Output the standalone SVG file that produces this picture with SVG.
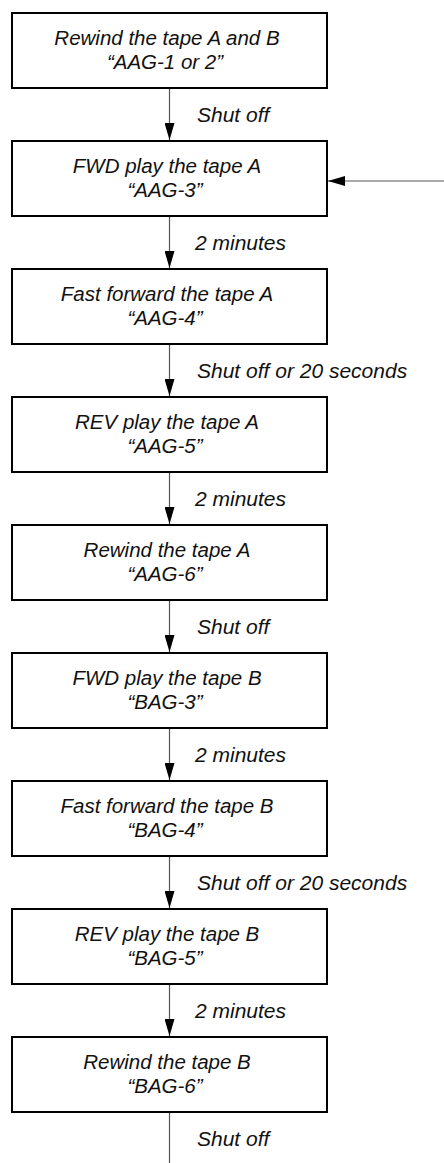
<svg xmlns="http://www.w3.org/2000/svg" width="444" height="1163" viewBox="0 0 444 1163">
<defs>
<marker id="ah" viewBox="0 0 17 10" refX="17" refY="5" markerWidth="17" markerHeight="10" markerUnits="userSpaceOnUse" orient="auto">
<path d="M0,0 L17,5 L0,10 Z" fill="#000"/>
</marker>
</defs>
<style>
.box{fill:#fff;stroke:#000;stroke-width:2}
.t{font-family:"Liberation Sans",Arial,sans-serif;font-style:italic;font-size:20.5px;fill:#111;text-anchor:middle}
.l{font-family:"Liberation Sans",Arial,sans-serif;font-style:italic;font-size:21px;fill:#111}
.c{stroke:#555;stroke-width:1.2;fill:none}
</style>
<rect width="444" height="1163" fill="#fff"/>
<g id="connectors">
<line class="c" x1="169.5" y1="88" x2="169.5" y2="140" marker-end="url(#ah)"/>
<line class="c" x1="169.5" y1="216" x2="169.5" y2="268" marker-end="url(#ah)"/>
<line class="c" x1="169.5" y1="344" x2="169.5" y2="396" marker-end="url(#ah)"/>
<line class="c" x1="169.5" y1="472" x2="169.5" y2="524" marker-end="url(#ah)"/>
<line class="c" x1="169.5" y1="600" x2="169.5" y2="652" marker-end="url(#ah)"/>
<line class="c" x1="169.5" y1="728" x2="169.5" y2="780" marker-end="url(#ah)"/>
<line class="c" x1="169.5" y1="856" x2="169.5" y2="908" marker-end="url(#ah)"/>
<line class="c" x1="169.5" y1="984" x2="169.5" y2="1036" marker-end="url(#ah)"/>
<line class="c" x1="169.5" y1="1112" x2="169.5" y2="1163"/>
<line class="c" x1="444" y1="181" x2="328" y2="181" marker-end="url(#ah)"/>
<text class="l" x="197" y="122">Shut off</text>
<text class="l" x="195" y="250">2 minutes</text>
<text class="l" x="197" y="378">Shut off or 20 seconds</text>
<text class="l" x="195" y="506">2 minutes</text>
<text class="l" x="197" y="634">Shut off</text>
<text class="l" x="195" y="762">2 minutes</text>
<text class="l" x="197" y="890">Shut off or 20 seconds</text>
<text class="l" x="195" y="1018">2 minutes</text>
<text class="l" x="197" y="1146">Shut off</text>
</g>
<g id="n1"><rect class="box" x="12" y="13" width="315" height="75"/><text class="t" x="167" y="45">Rewind the tape A and B</text><text class="t" x="165" y="69">“AAG-1 or 2”</text></g>
<g id="n2"><rect class="box" x="12" y="141" width="315" height="75"/><text class="t" x="167" y="173">FWD play the tape A</text><text class="t" x="165" y="197">“AAG-3”</text></g>
<g id="n3"><rect class="box" x="12" y="269" width="315" height="75"/><text class="t" x="167" y="301">Fast forward the tape A</text><text class="t" x="165" y="325">“AAG-4”</text></g>
<g id="n4"><rect class="box" x="12" y="397" width="315" height="75"/><text class="t" x="167" y="429">REV play the tape A</text><text class="t" x="165" y="453">“AAG-5”</text></g>
<g id="n5"><rect class="box" x="12" y="525" width="315" height="75"/><text class="t" x="167" y="557">Rewind the tape A</text><text class="t" x="165" y="581">“AAG-6”</text></g>
<g id="n6"><rect class="box" x="12" y="653" width="315" height="75"/><text class="t" x="167" y="685">FWD play the tape B</text><text class="t" x="165" y="709">“BAG-3”</text></g>
<g id="n7"><rect class="box" x="12" y="781" width="315" height="75"/><text class="t" x="167" y="813">Fast forward the tape B</text><text class="t" x="165" y="837">“BAG-4”</text></g>
<g id="n8"><rect class="box" x="12" y="909" width="315" height="75"/><text class="t" x="167" y="941">REV play the tape B</text><text class="t" x="165" y="965">“BAG-5”</text></g>
<g id="n9"><rect class="box" x="12" y="1037" width="315" height="75"/><text class="t" x="167" y="1069">Rewind the tape B</text><text class="t" x="165" y="1093">“BAG-6”</text></g>
</svg>
